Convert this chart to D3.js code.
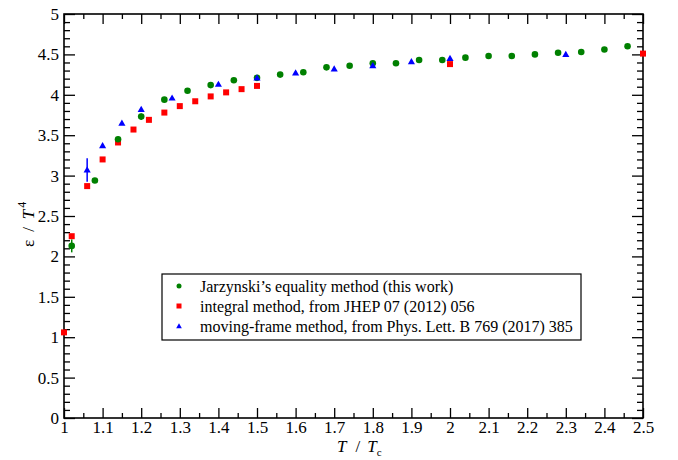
<!DOCTYPE html>
<html>
<head>
<meta charset="utf-8">
<script src="https://cdn.jsdelivr.net/npm/d3@7"></script>
<style>
  body { margin: 0; background: #fff; }
</style>
</head>
<body>
<div id="chart"></div>
<script>
// data
var jarT   = [1.02, 1.08, 1.14, 1.20, 1.26, 1.32, 1.38, 1.44, 1.50, 1.56, 1.62, 1.68, 1.74,
              1.80, 1.86, 1.92, 1.98, 2.04, 2.10, 2.16, 2.22, 2.28, 2.34, 2.40, 2.46];
var jarE   = [2.13, 2.94, 3.45, 3.73, 3.94, 4.05, 4.12, 4.18, 4.21, 4.25, 4.28, 4.34, 4.36,
              4.39, 4.39, 4.43, 4.43, 4.46, 4.48, 4.48, 4.50, 4.52, 4.53, 4.56, 4.60];
var jarErr = [0.08, 0.02, 0.03, 0.04, 0.02, 0.02, 0.02, 0.02, 0.02, 0.02, 0.02, 0.02, 0.02,
              0.02, 0.02, 0.02, 0.02, 0.02, 0.02, 0.02, 0.02, 0.02, 0.02, 0.02, 0.02];

var intT = [1.00, 1.02, 1.06, 1.10, 1.14, 1.18, 1.22, 1.26, 1.30, 1.34, 1.38, 1.42, 1.46, 1.50, 2.00, 2.50];
var intE = [1.06, 2.25, 2.87, 3.20, 3.41, 3.57, 3.69, 3.78, 3.86, 3.92, 3.98, 4.03, 4.07, 4.11, 4.38, 4.51];

var movT   = [1.06, 1.10, 1.15, 1.20, 1.28, 1.40, 1.50, 1.60, 1.70, 1.80, 1.90, 2.00, 2.30];
var movE   = [3.07, 3.37, 3.65, 3.82, 3.96, 4.13, 4.21, 4.27, 4.32, 4.36, 4.41, 4.45, 4.50];
var movErr = [0.145, 0.02, 0.02, 0.02, 0.02, 0.02, 0.02, 0.02, 0.02, 0.02, 0.02, 0.02, 0.02];

var xTicks = [1, 1.1, 1.2, 1.3, 1.4, 1.5, 1.6, 1.7, 1.8, 1.9, 2, 2.1, 2.2, 2.3, 2.4, 2.5];
var yTicks = [0, 0.5, 1, 1.5, 2, 2.5, 3, 3.5, 4, 4.5, 5];

var legendLabels = [
  "Jarzynski\u2019s equality method (this work)",
  "integral method, from JHEP 07 (2012) 056",
  "moving-frame method, from Phys. Lett. B 769 (2017) 385"
];

var W = 678, H = 460;
var margin = {top: 14, right: 35, bottom: 42, left: 64};
var w = W - margin.left - margin.right,
    h = H - margin.top - margin.bottom;

var FONT = "'Liberation Serif', serif";
var green = "#008000", red = "#ff0000", blue = "#0000ff";

var svg = d3.select("#chart").append("svg")
  .attr("width", W)
  .attr("height", H);

var g = svg.append("g")
  .attr("transform", "translate(" + margin.left + "," + margin.top + ")");

var x = d3.scaleLinear().domain([1, 2.5]).range([0, w]);
var y = d3.scaleLinear().domain([0, 5]).range([h, 0]);

// minor ticks
var xMinor = d3.range(0, 31).map(function(i) { return 1 + i * 0.05; })
  .filter(function(v, i) { return i % 2 == 1; });
var yMinor = d3.range(0, 51).map(function(i) { return i * 0.1; })
  .filter(function(v, i) { return i % 5 != 0; });

function styleAxis(sel) {
  sel.select(".domain").remove();
  sel.selectAll("line").attr("stroke", "#000").attr("stroke-width", 1.3);
}

// bottom + top
g.append("g").attr("transform", "translate(0," + h + ")")
  .call(d3.axisBottom(x).tickValues(xTicks).tickSize(-10).tickPadding(3)
    .tickFormat(function(d) { return d3.format("")(d); }))
  .call(styleAxis)
  .selectAll("text").attr("font-size", 17);
g.append("g").attr("transform", "translate(0," + h + ")")
  .call(d3.axisBottom(x).tickValues(xMinor).tickSize(-5).tickFormat(""))
  .call(styleAxis);
g.append("g")
  .call(d3.axisTop(x).tickValues(xTicks).tickSize(-10).tickFormat(""))
  .call(styleAxis);
g.append("g")
  .call(d3.axisTop(x).tickValues(xMinor).tickSize(-5).tickFormat(""))
  .call(styleAxis);

// left + right
g.append("g")
  .call(d3.axisLeft(y).tickValues(yTicks).tickSize(-11).tickPadding(5)
    .tickFormat(function(d) { return d3.format("")(d); }))
  .call(styleAxis)
  .selectAll("text").attr("font-size", 17);
g.append("g")
  .call(d3.axisLeft(y).tickValues(yMinor).tickSize(-6).tickFormat(""))
  .call(styleAxis);
g.append("g").attr("transform", "translate(" + w + ",0)")
  .call(d3.axisRight(y).tickValues(yTicks).tickSize(-11).tickFormat(""))
  .call(styleAxis);
g.append("g").attr("transform", "translate(" + w + ",0)")
  .call(d3.axisRight(y).tickValues(yMinor).tickSize(-6).tickFormat(""))
  .call(styleAxis);

// frame
g.append("rect")
  .attr("width", w).attr("height", h)
  .attr("fill", "none").attr("stroke", "#000").attr("stroke-width", 1.6);

// axis titles
var xt = svg.append("text")
  .attr("x", 337)
  .attr("y", 452)
  .attr("font-size", 17);
xt.append("tspan").attr("font-style", "italic").text("T");
xt.append("tspan").attr("dx", 9).text("/");
xt.append("tspan").attr("dx", 7).attr("font-style", "italic").text("T");
xt.append("tspan").attr("font-size", 11).attr("dy", 4).text("c");

var yt = svg.append("text")
  .attr("transform", "translate(33.5,247) rotate(-90)")
  .attr("font-size", 17);
yt.append("tspan").text("\u03b5");
yt.append("tspan").attr("dx", 8).text("/");
yt.append("tspan").attr("dx", 8).attr("font-style", "italic").text("T");
yt.append("tspan").attr("font-size", 12).attr("dx", 2).attr("dy", -8).text("4");

var plot = g.append("g");

// integral method
var intData = intT.map(function(t, i) { return {t: t, e: intE[i]}; });
plot.selectAll(".int").data(intData).enter().append("rect")
  .attr("class", "int")
  .attr("x", function(d) { return x(d.t) - 3; })
  .attr("y", function(d) { return y(d.e) - 3; })
  .attr("width", 6).attr("height", 6)
  .attr("fill", red);

// jarzynski
var jarData = jarT.map(function(t, i) { return {t: t, e: jarE[i], err: jarErr[i]}; });
plot.selectAll(".jarErr").data(jarData).enter().append("line")
  .attr("class", "jarErr")
  .attr("x1", function(d) { return x(d.t); })
  .attr("x2", function(d) { return x(d.t); })
  .attr("y1", function(d) { return y(d.e - d.err); })
  .attr("y2", function(d) { return y(d.e + d.err); })
  .attr("stroke", green).attr("stroke-width", 1.5);
plot.selectAll(".jar").data(jarData).enter().append("circle")
  .attr("class", "jar")
  .attr("cx", function(d) { return x(d.t); })
  .attr("cy", function(d) { return y(d.e); })
  .attr("r", 3.3)
  .attr("fill", green);

// moving frame
var movData = movT.map(function(t, i) { return {t: t, e: movE[i], err: movErr[i]}; });
var tri = d3.symbol().type(d3.symbolTriangle).size(22);
plot.selectAll(".movErr").data(movData).enter().append("line")
  .attr("class", "movErr")
  .attr("x1", function(d) { return x(d.t); })
  .attr("x2", function(d) { return x(d.t); })
  .attr("y1", function(d) { return y(d.e - d.err); })
  .attr("y2", function(d) { return y(d.e + d.err); })
  .attr("stroke", blue).attr("stroke-width", 1.5);
plot.selectAll(".mov").data(movData).enter().append("path")
  .attr("class", "mov")
  .attr("d", tri)
  .attr("transform", function(d) { return "translate(" + x(d.t) + "," + (y(d.e) + 0.5) + ")"; })
  .attr("fill", blue);

// legend
var leg = svg.append("g").attr("transform", "translate(162,274)");
leg.append("rect")
  .attr("width", 419).attr("height", 66)
  .attr("fill", "#fff").attr("stroke", "#000").attr("stroke-width", 1.2);

var rows = leg.selectAll(".row").data(legendLabels).enter().append("g")
  .attr("class", "row")
  .attr("transform", function(d, i) { return "translate(0," + (12 + i * 20) + ")"; });
rows.append("text")
  .attr("x", 38).attr("y", 5.5)
  .attr("font-size", 16)
  .text(function(d) { return d; });

leg.append("circle").attr("cx", 17).attr("cy", 12).attr("r", 2.5).attr("fill", green);
leg.append("rect").attr("x", 14.5).attr("y", 29.5).attr("width", 5).attr("height", 5).attr("fill", red);
leg.append("path").attr("d", d3.symbol().type(d3.symbolTriangle).size(14))
  .attr("transform", "translate(17,52.5)").attr("fill", blue);

// serif everywhere (inline style beats the axis font attribute)
svg.selectAll("text").style("font-family", FONT).style("fill", "#000");
</script>
</body>
</html>
